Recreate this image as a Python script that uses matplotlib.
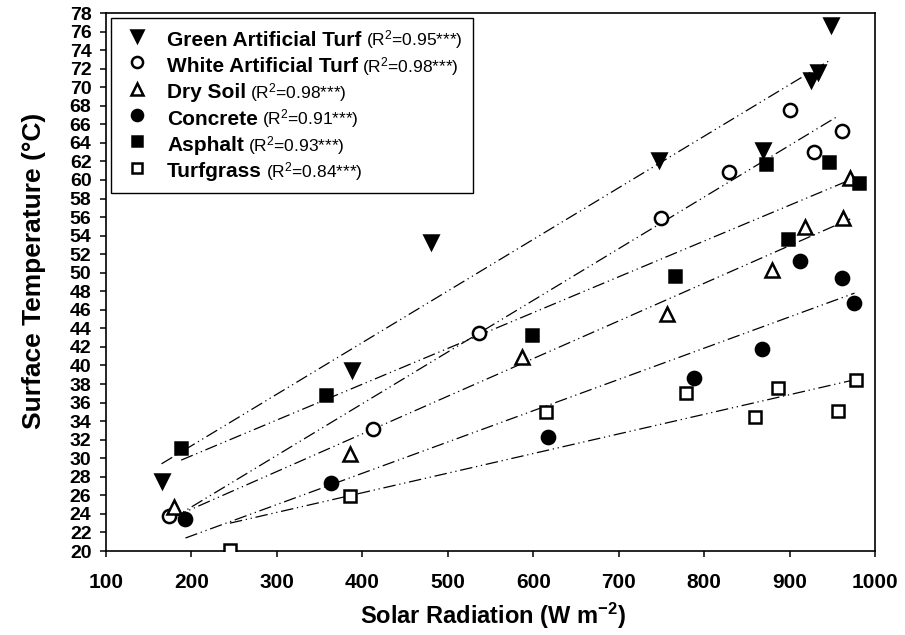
import numpy as np
import matplotlib
matplotlib.use("Agg")
import matplotlib.pyplot as plt
from matplotlib.lines import Line2D
from matplotlib.offsetbox import AnchoredOffsetbox, HPacker, VPacker, TextArea, DrawingArea

plt.rcParams['font.family'] = ['Liberation Sans', 'DejaVu Sans']
plt.rcParams['mathtext.default'] = 'regular'
narrow = ['Liberation Sans Narrow', 'Liberation Sans', 'DejaVu Sans']

# series names and R^2 labels
names = ["Green Artificial Turf", "White Artificial Turf", "Dry Soil",
         "Concrete", "Asphalt", "Turfgrass"]
r2_labels = ["(R$^2$=0.95***)", "(R$^2$=0.98***)", "(R$^2$=0.98***)",
             "(R$^2$=0.91***)", "(R$^2$=0.93***)", "(R$^2$=0.84***)"]

# measured points (solar radiation W m-2, surface temperature C)
green_x = [166, 388, 480, 747, 869, 925, 933, 948]
green_y = [27.5, 39.5, 53.3, 62.2, 63.2, 70.8, 71.6, 76.7]
white_x = [174, 413, 537, 749, 829, 900, 929, 961]
white_y = [23.8, 33.2, 43.5, 55.9, 60.9, 67.5, 63.0, 65.3]
soil_x = [180, 385, 587, 756, 880, 918, 962, 971]
soil_y = [24.7, 30.5, 40.9, 45.6, 50.3, 54.9, 55.9, 60.2]
concrete_x = [193, 363, 617, 788, 868, 912, 961, 976]
concrete_y = [23.4, 27.3, 32.3, 38.6, 41.8, 51.3, 49.4, 46.7]
asphalt_x = [188, 357, 598, 766, 872, 898, 946, 981]
asphalt_y = [31.1, 36.8, 43.3, 49.6, 61.7, 53.6, 61.9, 59.7]
turf_x = [245, 385, 615, 779, 860, 887, 957, 978]
turf_y = [20.1, 25.9, 35.0, 37.0, 34.4, 37.6, 35.1, 38.4]

# regression line ends
fit_x0 = [165, 174, 180, 193, 188, 245]
fit_x1 = [949, 957, 971, 976, 981, 978]
fit_y0 = [29.4, 23.3, 23.7, 21.4, 29.8, 23.0]
fit_y1 = [73.0, 66.9, 55.8, 47.8, 60.4, 38.5]

xs = [green_x, white_x, soil_x, concrete_x, asphalt_x, turf_x]
ys = [green_y, white_y, soil_y, concrete_y, asphalt_y, turf_y]

# marker styles: (marker, size, face)
styles = [('v', 10, 'black'), ('o', 9.5, 'white'), ('^', 10, 'white'),
          ('o', 9.5, 'black'), ('s', 8.5, 'black'), ('s', 8.5, 'white')]

fig = plt.figure(figsize=(9.05, 6.35), dpi=100)
ax = fig.add_axes([106/905, 1-551/635, (875-106)/905, (551-13)/635])

dashdotdot = (0, (10, 3, 1, 3, 1, 3))
for i in range(6):
    ax.plot([fit_x0[i], fit_x1[i]], [fit_y0[i], fit_y1[i]], color='black',
            lw=0.9, linestyle=dashdotdot, zorder=2)

for i in range(6):
    m, ms, fc = styles[i]
    ax.plot(xs[i], ys[i], linestyle='none', marker=m, ms=ms, mfc=fc,
            mec='black', mew=1.8, zorder=3)

ax.set_xlim(100, 1000)
ax.set_ylim(20, 78)
ax.set_xticks(np.arange(100, 1001, 100))
ax.set_yticks(np.arange(20, 79, 2))
ax.tick_params(axis='both', direction='out', length=4.5, width=1.1)
ax.tick_params(axis='y', labelsize=14, pad=6)
ax.tick_params(axis='x', labelsize=15, pad=11)
for lab in ax.get_xticklabels() + ax.get_yticklabels():
    lab.set_fontweight('bold')
    lab.set_family(narrow)
for sp in ax.spines.values():
    sp.set_linewidth(1.2)

ax.set_xlabel("Solar Radiation (W m$^{-2}$)", fontsize=17, fontweight='bold')
ax.xaxis.set_label_coords(0.503, -0.092)
ax.set_ylabel("Surface Temperature (°C)", fontsize=19, fontweight='bold', va='center')
ax.yaxis.set_label_coords(-0.094, 0.52)

# legend built from boxes so the R^2 part can be smaller and not bold
rows = []
for i in range(6):
    m, ms, fc = styles[i]
    da = DrawingArea(30, 14, 0, 2)
    da.add_artist(Line2D([11], [7], marker=m, ms=ms - 1.5, mfc=fc, mec='black',
                         mew=1.8, linestyle='none'))
    t1 = TextArea(names[i], textprops=dict(fontsize=15, fontweight='bold'))
    t2 = TextArea(r2_labels[i], textprops=dict(fontsize=12.5))
    rows.append(HPacker(children=[da, t1, t2], align='baseline', pad=0, sep=3))
box = VPacker(children=rows, align='left', pad=0, sep=2.5)
leg = AnchoredOffsetbox(loc='upper left', child=box, pad=0.75, borderpad=0.35,
                        frameon=True, prop=dict(size=10))
leg.patch.set_edgecolor('black')
leg.patch.set_linewidth(1.0)
ax.add_artist(leg)

fig.savefig("out.png", dpi=100)
